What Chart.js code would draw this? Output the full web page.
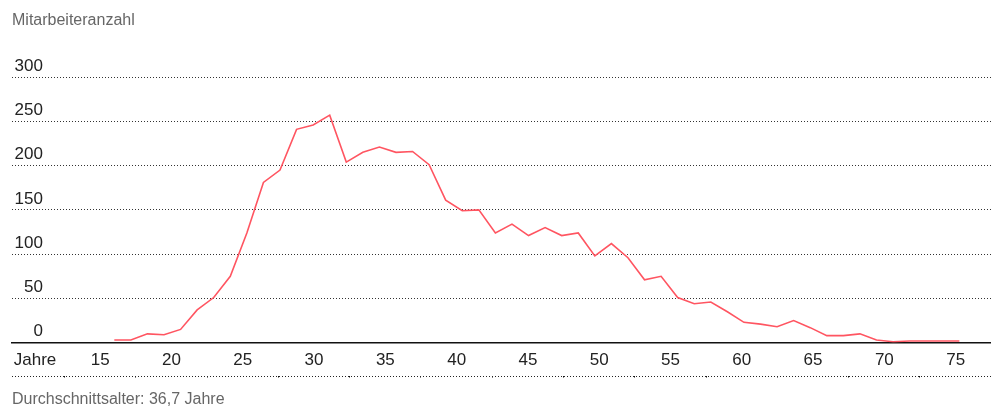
<!DOCTYPE html>
<html>
<head>
<meta charset="utf-8">
<script src="https://cdn.jsdelivr.net/npm/chart.js@4/dist/chart.umd.min.js"></script>
<style>
html,body{margin:0;padding:0;background:#fff;}
#wrap{position:relative;width:991px;height:411px;}
</style>
</head>
<body>
<div id="wrap"><canvas id="c"></canvas></div>
<script>
// ---- data ----
const titleText = 'Mitarbeiteranzahl';
const footerText = 'Durchschnittsalter: 36,7 Jahre';
const unitLabel = 'Jahre';
const ageTicks = [15, 20, 25, 30, 35, 40, 45, 50, 55, 60, 65, 70, 75];
const countTicks = [0, 50, 100, 150, 200, 250, 300];
const employeeCounts = [
  3, 3, 10, 9, 15, 37, 51, 75, 124, 181,
  195, 241, 246, 257, 204, 215, 221, 215, 216, 201,
  161, 149, 150, 124, 134, 121, 130, 121, 124, 98,
  112, 96, 71, 75, 51, 44, 46, 35, 23, 21,
  18, 25, 17, 8, 8, 10, 3, 1, 2, 2,
  2, 2
];
const ruleMarks = [12.5, 17.5, 22.5, 27.5, 32.5, 37.5, 42.5, 47.5, 52.5, 57.5, 62.5, 67.5, 72.5];

// ---- layout constants ----
const IDX_MIN = -6.174, IDX_MAX = 52.91;
const AGE_MIN = 8.814, AGE_MAX = 77.48;
const UNIT_POS = 10.43;

Chart.defaults.font.family = "'Liberation Sans', Arial, sans-serif";

const bottomRule = {
  id: 'bottomRule',
  afterDraw(chart) {
    const s = chart.scales.xBottom;
    const ctx = chart.ctx;
    const y = Math.round(s.top) + 0.5;
    ctx.save();
    ctx.strokeStyle = '#222';
    ctx.lineWidth = 1;
    ctx.setLineDash([1, 2]);
    ctx.beginPath();
    ctx.moveTo(s.left, y);
    ctx.lineTo(s.right, y);
    ctx.stroke();
    ctx.restore();
  }
};

new Chart(document.getElementById('c'), {
  type: 'line',
  data: {
    datasets: [{
      data: employeeCounts.map((v, i) => ({x: i, y: v})),
      borderColor: '#ff5561',
      borderWidth: 1.6,
      pointRadius: 0,
      tension: 0,
      fill: false
    }]
  },
  options: {
    responsive: true,
    maintainAspectRatio: false,
    animation: false,
    layout: {padding: {left: 12, right: 0, top: 0, bottom: 0}},
    plugins: {
      legend: {display: false},
      tooltip: {enabled: false},
      title: {
        display: true, text: titleText, align: 'start', color: '#666',
        font: {size: 16, weight: 'normal'}, padding: {top: 10.9, bottom: 47.0}
      },
      subtitle: {
        display: true, text: footerText, position: 'bottom', align: 'start', color: '#666',
        font: {size: 16, weight: 'normal'}, padding: {top: 12.4, bottom: 1.9}
      }
    },
    scales: {
      x: {
        type: 'linear', display: false, min: IDX_MIN, max: IDX_MAX
      },
      xAge: {
        type: 'linear', position: 'bottom', weight: 0,
        min: AGE_MIN, max: AGE_MAX,
        afterBuildTicks: s => { s.ticks = [UNIT_POS].concat(ageTicks).map(v => ({value: v})); },
        afterFit: s => { s.height = 32.8; },
        grid: {display: true, drawOnChartArea: false, drawTicks: false, color: 'rgba(0,0,0,0)'},
        border: {display: true, color: '#111', width: 1.5},
        ticks: {
          color: '#222', padding: 1.8, maxRotation: 0, autoSkip: false,
          font: {size: 17, lineHeight: 31 / 17},
          callback: v => (v === UNIT_POS ? unitLabel : String(v))
        }
      },
      xBottom: {
        type: 'linear', position: 'bottom', weight: 1,
        min: AGE_MIN, max: AGE_MAX,
        afterBuildTicks: s => { s.ticks = ruleMarks.map(v => ({value: v})); },
        afterFit: s => { s.height = 2; },
        grid: {display: true, drawOnChartArea: false, drawTicks: true, tickLength: 2, tickColor: '#111', tickWidth: 1},
        border: {display: false},
        ticks: {display: false}
      },
      y: {
        position: 'left', min: 0, max: 300,
        afterBuildTicks: s => { s.ticks = countTicks.map(v => ({value: v})); },
        afterFit: s => { s.width = 0; },
        grid: {color: '#333', lineWidth: 1, drawTicks: false},
        border: {display: false, dash: [1, 2]},
        ticks: {
          mirror: true, crossAlign: 'far', padding: 2.6, labelOffset: -11,
          color: '#222', font: {size: 17}
        }
      }
    }
  },
  plugins: [bottomRule]
});
</script>
</body>
</html>
